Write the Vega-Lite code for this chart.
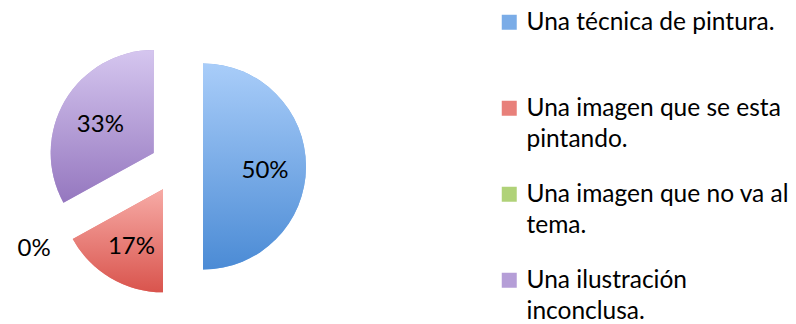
{
  "$schema": "https://vega.github.io/schema/vega-lite/v6.json",
  "width": 353,
  "height": 313,
  "padding": {"top": 10, "left": 0, "right": 0, "bottom": 0},
  "background": "white",
  "config": {"view": {"stroke": null}},
  "params": [
    {
      "name": "grads",
      "value": [
        {"gradient": "linear", "x1": 0, "y1": 0, "x2": 0, "y2": 1, "stops": [{"offset": 0, "color": "#a9cdf9"}, {"offset": 1, "color": "#4b8bd5"}]},
        {"gradient": "linear", "x1": 0, "y1": 0, "x2": 0, "y2": 1, "stops": [{"offset": 0, "color": "#f7aba6"}, {"offset": 1, "color": "#d9544d"}]},
        {"gradient": "linear", "x1": 0, "y1": 0, "x2": 0, "y2": 1, "stops": [{"offset": 0, "color": "#cde59f"}, {"offset": 1, "color": "#93bd52"}]},
        {"gradient": "linear", "x1": 0, "y1": 0, "x2": 0, "y2": 1, "stops": [{"offset": 0, "color": "#d5c6ef"}, {"offset": 1, "color": "#9577bf"}]}
      ]
    }
  ],
  "data": {
    "values": [
      {"respuesta": "Una técnica de pintura.", "pct": 0.50, "orden": 1},
      {"respuesta": "Una imagen que se esta pintando.", "pct": 0.17, "orden": 2},
      {"respuesta": "Una imagen que no va al tema.", "pct": 0.0, "orden": 3},
      {"respuesta": "Una ilustración inconclusa.", "pct": 0.33, "orden": 4}
    ]
  },
  "encoding": {
    "theta": {"field": "pct", "type": "quantitative", "stack": true},
    "order": {"field": "orden", "type": "quantitative"}
  },
  "layer": [
    {
      "mark": {
        "type": "arc",
        "outerRadius": 103,
        "strokeWidth": 0,
        "x": {"expr": "width/2 + 26.5*sin((scale('theta', datum.pct_start) + scale('theta', datum.pct_end))/2)"},
        "y": {"expr": "height/2 - 26.5*cos((scale('theta', datum.pct_start) + scale('theta', datum.pct_end))/2)"}
      },
      "encoding": {
        "color": {
          "field": "respuesta",
          "type": "nominal",
          "sort": null,
          "scale": {
            "domain": ["Una técnica de pintura.", "Una imagen que se esta pintando.", "Una imagen que no va al tema.", "Una ilustración inconclusa."],
            "range": ["#7aace7", "#e8807a", "#b0d278", "#b59ed7"]
          },
          "legend": {
            "title": null,
            "orient": "right",
            "offset": 144,
            "padding": 0,
            "symbolType": "square",
            "symbolSize": 225,
            "symbolStrokeWidth": 0,
            "symbolOpacity": 1,
            "labelFont": "Lato",
            "labelFontSize": 24.5,
            "labelColor": "#000000",
            "labelLimit": 0,
            "labelOffset": 5,
            "labelBaseline": "alphabetic",
            "gridAlign": "all",
            "rowPadding": 30,
            "labelExpr": "datum.label == 'Una imagen que se esta pintando.' ? ['Una imagen que se esta', 'pintando.'] : datum.label == 'Una imagen que no va al tema.' ? ['Una imagen que no va al', 'tema.'] : datum.label == 'Una ilustración inconclusa.' ? ['Una ilustración', 'inconclusa.'] : datum.label",
            "encode": {
              "labels": {"update": {"lineHeight": {"value": 31}, "dy": {"value": 8}}},
              "symbols": {
                "enter": {"fill": {"signal": "grads[datum.index]"}},
                "update": {"fill": {"signal": "grads[datum.index]"}}
              }
            }
          }
        }
      }
    },
    {
      "mark": {
        "type": "arc",
        "outerRadius": 103,
        "strokeWidth": 0,
        "fill": {"expr": "grads[datum.orden - 1]"},
        "x": {"expr": "width/2 + 26.5*sin((scale('theta', datum.pct_start) + scale('theta', datum.pct_end))/2)"},
        "y": {"expr": "height/2 - 26.5*cos((scale('theta', datum.pct_start) + scale('theta', datum.pct_end))/2)"}
      }
    },
    {
      "mark": {
        "type": "text",
        "radius": 62,
        "font": "Lato",
        "fontSize": 24,
        "dy": 4,
        "color": "#000000",
        "x": {"expr": "width/2 + 26.5*sin((scale('theta', datum.pct_start) + scale('theta', datum.pct_end))/2)"},
        "y": {"expr": "height/2 - 26.5*cos((scale('theta', datum.pct_start) + scale('theta', datum.pct_end))/2)"}
      },
      "encoding": {
        "text": {"condition": {"test": "datum.pct > 0", "field": "pct", "type": "quantitative", "format": ".0%"}, "value": ""}
      }
    },
    {
      "mark": {
        "type": "text",
        "radius": 136,
        "font": "Lato",
        "fontSize": 24,
        "dy": 4,
        "color": "#000000",
        "x": {"expr": "width/2 + 26.5*sin((scale('theta', datum.pct_start) + scale('theta', datum.pct_end))/2)"},
        "y": {"expr": "height/2 - 26.5*cos((scale('theta', datum.pct_start) + scale('theta', datum.pct_end))/2)"}
      },
      "encoding": {
        "text": {"condition": {"test": "datum.pct == 0", "field": "pct", "type": "quantitative", "format": ".0%"}, "value": ""}
      }
    }
  ]
}
